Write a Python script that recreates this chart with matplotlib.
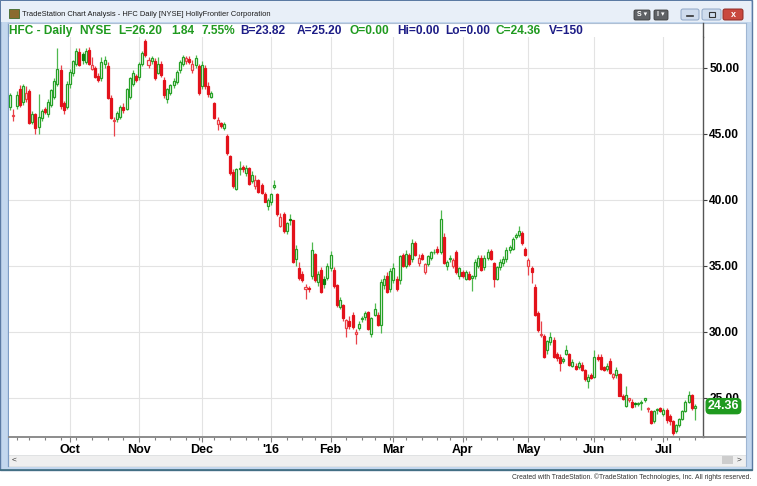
import matplotlib
matplotlib.use("Agg")
import matplotlib.pyplot as plt
import matplotlib.transforms as mtransforms
from matplotlib.patches import Rectangle, FancyBboxPatch
import numpy as np
import pandas as pd

plt.rcParams['font.family'] = ['Liberation Sans', 'DejaVu Sans']

# ---------------- data (daily OHLC, 2015-09-03 .. 2016-07-18) ----------------
opens = [
    # Sep
    47.0, 46.35, 47.1, 48.35, 47.4, 47.6, 48.2, 45.9, 46.5, 45.5, 46.2, 46.85, 46.5, 47.2, 47.8, 48.8, 49.8, 47.3, 47.0,
    # Oct
    48.8, 49.6, 50.3, 51.2, 51.0, 50.4, 51.35, 49.9, 50.0, 49.4, 49.2, 50.3, 50.1, 47.7, 45.95, 46.1, 46.3, 47.0, 46.9, 47.8, 48.8, 49.35,
    # Nov
    49.3, 50.3, 52.0, 50.2, 50.5, 50.5, 49.6, 50.3, 49.1, 47.6, 48.1, 48.7, 48.9, 49.8, 50.3, 50.5, 50.65, 49.8, 50.2, 50.1,
    # Dec
    48.6, 50.0, 48.6, 47.8, 47.3, 45.7, 45.8, 45.4, 44.8, 43.3, 42.1, 40.8, 42.3, 42.45, 42.0, 42.4, 41.4, 41.0, 41.5, 41.1, 40.45, 39.5,
    # Jan
    39.8, 40.95, 40.4, 38.0, 38.95, 37.6, 38.55, 38.45, 35.5, 34.8, 34.4, 33.25, 33.3, 34.2, 35.9, 33.8, 34.7, 34.0, 34.1,
    # Feb
    34.8, 34.7, 33.5, 31.9, 32.0, 30.3, 30.8, 31.3, 29.85, 30.3, 30.95, 31.1, 31.5, 29.8, 31.3, 31.3, 30.5, 33.5, 34.2, 33.2,
    # Mar
    33.9, 34.0, 33.9, 35.8, 35.0, 35.8, 35.5, 36.7, 35.2, 35.8, 34.5, 35.1, 35.6, 36.0, 36.3, 36.0, 37.2, 35.0, 35.5, 35.0, 36.0, 34.2,
    # Apr
    34.5, 34.0, 34.4, 34.1, 34.2, 35.0, 35.6, 34.9, 35.6, 36.1, 35.2, 34.0, 34.9, 35.2, 35.5, 36.2, 36.3, 37.2, 37.3, 37.5, 36.3,
    # May
    35.0, 34.8, 33.4, 31.4, 29.75, 29.7, 28.6, 29.2, 29.4, 28.3, 28.1, 27.8, 28.3, 28.3, 27.4, 27.4, 27.3, 27.5, 27.1, 26.3, 26.7,
    # Jun
    26.6, 28.1, 28.1, 27.3, 27.2, 27.8, 26.6, 26.7, 26.8, 25.1, 24.4, 24.85, 24.7, 24.6, 24.5, 24.6, 24.85, 24.15, 24.0, 23.2, 24.05, 24.2,
    # Jul
    23.8, 24.05, 23.6, 23.2, 22.5, 22.9, 23.4, 24.0, 24.7, 25.2, 24.2,
]
highs = [
    48.1, 46.9, 48.2, 48.7, 48.8, 48.6, 48.4, 46.7, 46.6, 48.0, 46.9, 47.0, 47.6, 48.4, 49.2, 51.5, 50.2, 47.5, 49.0,
    49.9, 50.6, 51.5, 51.5, 51.2, 51.5, 51.6, 50.8, 50.1, 49.6, 50.8, 50.9, 50.4, 47.9, 46.3, 46.7, 47.2, 47.3, 48.5, 49.3, 49.8, 49.5,
    50.4, 51.3, 52.15, 50.8, 50.9, 50.7, 50.8, 50.5, 49.3, 48.5, 48.8, 49.2, 49.8, 50.6, 51.0, 50.9, 50.9, 50.6, 51.0, 50.3,
    50.5, 50.2, 48.9, 48.2, 47.4, 46.3, 45.9, 45.9, 45.0, 43.4, 42.3, 42.4, 42.9, 42.6, 42.6, 42.5, 42.2, 41.9, 41.6, 41.3, 40.6, 40.1,
    40.5, 41.5, 40.5, 39.0, 39.1, 38.3, 38.9, 38.5, 36.6, 35.3, 34.6, 33.6, 33.5, 36.8, 36.0, 34.6, 34.9, 34.2, 35.2,
    36.1, 34.9, 33.6, 32.6, 32.1, 31.0, 31.2, 31.5, 30.2, 30.8, 31.2, 31.6, 31.6, 31.1, 32.2, 31.5, 34.0, 34.3, 34.5, 34.8,
    35.2, 34.2, 35.8, 36.0, 36.2, 36.0, 37.0, 36.9, 35.9, 36.0, 35.2, 35.8, 36.1, 36.3, 36.5, 39.2, 37.5, 35.4, 35.8, 35.6, 36.2, 34.9,
    34.7, 34.7, 34.6, 34.3, 35.5, 35.8, 35.8, 35.8, 36.3, 36.3, 35.3, 35.0, 35.5, 35.7, 36.4, 36.6, 37.2, 37.5, 38.0, 37.6, 36.4,
    35.6, 35.0, 33.6, 31.6, 30.8, 29.8, 29.4, 30.0, 29.6, 28.5, 28.3, 28.1, 29.0, 28.4, 27.9, 27.6, 27.8, 27.7, 27.2, 26.8, 26.9,
    28.6, 28.3, 28.3, 27.4, 27.6, 28.0, 26.9, 27.3, 26.9, 25.3, 25.85, 25.0, 24.9, 24.7, 24.7, 24.8, 25.0, 24.3, 24.1, 24.1, 24.2, 24.3,
    24.2, 24.2, 23.8, 23.3, 23.0, 23.5, 24.1, 24.8, 25.5, 25.3, 24.5,
]
lows = [
    46.8, 46.0, 46.9, 47.0, 47.2, 47.4, 45.7, 45.7, 45.0, 45.0, 46.0, 46.5, 46.3, 47.0, 47.6, 48.6, 46.9, 46.5, 46.9,
    48.5, 49.4, 50.1, 50.1, 50.3, 50.3, 50.2, 49.8, 49.2, 48.9, 49.0, 50.0, 47.6, 46.1, 44.8, 45.9, 46.1, 46.6, 46.8, 47.6, 48.6, 48.9,
    49.1, 50.1, 50.8, 50.0, 50.3, 49.1, 49.5, 49.3, 47.7, 47.3, 47.9, 48.5, 48.8, 49.6, 50.1, 50.3, 50.3, 49.6, 50.0, 47.9,
    48.4, 48.4, 47.8, 47.7, 46.1, 45.3, 45.4, 45.3, 43.4, 41.9, 40.9, 40.7, 41.9, 42.1, 41.8, 41.1, 41.3, 40.8, 40.5, 40.4, 39.8, 39.2,
    39.6, 40.8, 38.8, 37.9, 37.5, 37.4, 38.1, 35.2, 35.0, 33.9, 33.8, 32.5, 33.0, 34.0, 33.8, 33.5, 32.9, 33.3, 33.9,
    34.6, 33.3, 31.9, 31.7, 30.8, 29.6, 30.2, 30.2, 29.1, 30.1, 30.7, 30.9, 30.1, 29.6, 31.2, 30.4, 29.9, 33.2, 32.9, 33.0,
    33.7, 33.1, 33.6, 34.9, 34.8, 35.0, 35.3, 35.7, 35.0, 35.4, 34.4, 35.0, 35.4, 35.9, 35.9, 35.9, 35.1, 34.7, 35.3, 34.8, 34.4, 34.0,
    34.1, 33.9, 33.9, 33.1, 34.0, 34.8, 34.6, 34.7, 35.4, 35.4, 33.4, 33.9, 34.7, 35.0, 35.3, 36.0, 36.2, 37.0, 37.2, 36.6, 35.7,
    34.3, 33.7, 31.2, 30.0, 29.6, 28.0, 28.3, 29.0, 28.0, 27.8, 27.0, 27.6, 28.2, 27.4, 27.3, 27.1, 27.2, 27.0, 26.3, 25.7, 26.4,
    26.5, 27.8, 27.1, 27.0, 27.0, 26.8, 26.4, 26.5, 25.1, 24.8, 24.3, 24.7, 24.2, 24.3, 24.4, 24.1, 24.7, 23.9, 23.0, 23.1, 23.8, 23.9,
    23.6, 23.1, 22.9, 22.2, 22.3, 22.8, 23.3, 23.9, 24.6, 24.1, 23.3,
]
closes = [
    47.9, 46.45, 47.9, 47.2, 48.6, 48.1, 45.8, 46.5, 45.4, 46.3, 46.7, 46.65, 47.4, 48.3, 49.0, 49.9, 47.1, 46.8, 48.8,
    49.7, 50.5, 51.3, 50.2, 50.6, 51.3, 50.3, 50.2, 49.3, 49.1, 50.45, 50.6, 47.7, 46.2, 46.05, 46.55, 47.0, 46.8, 48.4, 49.2, 49.6, 49.05,
    50.3, 51.1, 50.95, 50.6, 50.75, 49.2, 50.3, 49.45, 47.9, 48.4, 48.7, 49.0, 49.7, 50.45, 50.8, 50.7, 50.45, 50.3, 50.7, 48.05,
    50.2, 48.6, 48.0, 48.05, 46.2, 46.0, 45.55, 45.7, 43.5, 42.0, 41.0, 42.3, 42.4, 42.3, 42.4, 41.2, 41.9, 41.5, 40.6, 40.5, 39.85, 40.0,
    40.4, 41.15, 38.9, 38.7, 37.6, 38.2, 38.45, 35.3, 36.3, 34.05, 33.9, 33.35, 33.2, 36.2, 33.9, 34.4, 33.0, 33.6, 35.0,
    35.8, 33.45, 32.0, 32.4, 31.0, 30.9, 30.4, 30.35, 29.95, 30.6, 31.05, 31.4, 30.2, 31.0, 31.7, 30.5, 33.8, 34.0, 33.0, 34.6,
    34.8, 33.2, 35.7, 35.0, 35.9, 35.1, 36.7, 35.8, 35.6, 35.5, 35.1, 35.7, 36.0, 36.05, 36.0, 38.5, 35.2, 35.3, 35.55, 35.4, 34.5, 34.8,
    34.2, 34.5, 33.97, 34.2, 35.3, 35.6, 34.7, 35.6, 36.0, 35.5, 34.0, 34.9, 35.3, 35.5, 36.2, 36.4, 37.0, 37.35, 37.6, 36.7, 35.8,
    35.4, 34.5, 31.3, 30.1, 29.85, 28.1, 29.3, 29.6, 28.1, 28.0, 27.6, 27.9, 28.6, 27.5, 27.7, 27.2, 27.6, 27.1, 26.4, 26.6, 26.5,
    28.1, 27.9, 27.2, 27.1, 27.4, 26.85, 26.8, 27.1, 25.15, 24.9, 25.2, 24.95, 24.3, 24.5, 24.55, 24.7, 24.95, 24.2, 23.1, 24.0, 24.1, 24.0,
    24.05, 23.3, 23.2, 22.35, 22.9, 23.4, 24.0, 24.7, 25.2, 24.2, 24.36,
]

start_date = "2015-09-03"
end_date = "2016-07-18"
market_holidays = ["2015-09-07", "2015-11-26", "2015-12-25", "2016-01-01",
                   "2016-01-18", "2016-02-15", "2016-03-25", "2016-05-30", "2016-07-04"]
month_names = {1: "'16", 2: "Feb", 3: "Mar", 4: "Apr", 5: "May", 6: "Jun",
               7: "Jul", 8: "Aug", 9: "Sep", 10: "Oct", 11: "Nov", 12: "Dec"}
price_ticks = [25, 30, 35, 40, 45, 50]
last_close = 24.36

title_text = "TradeStation Chart Analysis - HFC Daily [NYSE] HollyFrontier Corporation"
footer_text = "Created with TradeStation. \u00a9TradeStation Technologies, Inc. All rights reserved."
HG = "#1f9a1f"   # header green
HB = "#1c1c86"   # header navy
header_parts = [("HFC - Daily", HG), ("NYSE", HG), ("L=26.20", HG), ("1.84", HG),
                ("7.55%", HG), ("B=23.82", HB), ("A=25.20", HB), ("O=0.00", HG),
                ("Hi=0.00", HB), ("Lo=0.00", HB), ("C=24.36", HG), ("V=150", HB)]
header_x = [9, 79, 118, 171, 201, 240, 297, 349, 397, 445, 495, 549]

# ---------------- derived ----------------
dates = pd.bdate_range(start_date, end_date, freq="C", holidays=market_holidays)
n = len(closes)
dates = dates[:n]
xs = np.arange(n)
months = np.array([d.month for d in dates])
weeks = np.array([d.isocalendar()[1] for d in dates])
month_pos = [j for j in range(1, n) if months[j] != months[j - 1]]
month_lab = [month_names[months[j]] for j in month_pos]
week_pos = [j for j in range(1, n) if weeks[j] != weeks[j - 1]]

o = np.array(opens); h = np.array(highs); l = np.array(lows); c = np.array(closes)
prev = np.concatenate([[o[0]], c[:-1]])
up = c >= prev
hollow = c > o

GREEN = "#27a127"
GREEN_W = "#4fb84f"
GREEN_F = "#0b800b"
RED = "#e3121b"
RED_W = "#e8424a"
RED_H = "#ea4047"

face, edge, wick = [], [], []
for j in range(n):
    if up[j]:
        wick.append(GREEN_W)
        if hollow[j]:
            face.append("white"); edge.append(GREEN)
        else:
            face.append(GREEN_F); edge.append(GREEN_F)
    else:
        wick.append(RED_W)
        if hollow[j]:
            face.append("white"); edge.append(RED_H)
        else:
            face.append(RED); edge.append(RED)
bottoms = np.minimum(o, c)
heights = np.maximum(np.abs(c - o), 0.07)

# ---------------- figure ----------------
W, H = 757, 486
fig = plt.figure(figsize=(W / 100, H / 100), dpi=100)
fig.patch.set_facecolor("white")

bg = fig.add_axes([0, 0, 1, 1], zorder=0)
bg.set_xlim(0, W); bg.set_ylim(H, 0); bg.axis("off")

# window frame
bg.add_patch(Rectangle((0, 0), 752, 470, facecolor="#c3d7ee", edgecolor="#5b7aa3", lw=1))
bg.add_patch(Rectangle((1, 1), 750, 21.5, facecolor="#e8eff8", edgecolor="none"))
bg.add_patch(Rectangle((8, 23), 738, 432, facecolor="white", edgecolor="none"))
bg.add_patch(Rectangle((8, 455), 738, 10.5, facecolor="#efefef", edgecolor="#e2e2e2", lw=0.6))
bg.plot([8, 8], [23, 466], color="#7d9cc4", lw=0.9)
bg.plot([8, 746], [22.8, 22.8], color="#aebfd4", lw=0.8)
bg.plot([746, 746], [23, 466], color="#9fb6d3", lw=0.8)
bg.plot([0, 752], [469.5, 469.5], color="#3f6d7e", lw=1.2)
# scrollbar bits
bg.add_patch(Rectangle((722, 456), 11, 8, facecolor="#cdcdcd", edgecolor="none"))
bg.text(14, 460.5, "<", fontsize=6, color="#333333", ha="center", va="center")
bg.text(739, 460.5, ">", fontsize=6, color="#333333", ha="center", va="center")
# title bar
bg.add_patch(Rectangle((9, 9), 10, 9, facecolor="#8a6a2e", edgecolor="#3e6a2a", lw=0.6))
bg.text(22, 14.5, title_text, fontsize=5.4, color="#1a1a1a", va="center", ha="left")
for (x0, x1), lab in [((634, 650), "S \u25be"), ((654, 668), "I \u25be")]:
    bg.add_patch(FancyBboxPatch((x0, 10), x1 - x0, 10, boxstyle="round,pad=0,rounding_size=1.5",
                                facecolor="#5f6266", edgecolor="#3c3c3c", lw=0.6))
    bg.text((x0 + x1) / 2, 15, lab, fontsize=5, color="white", fontweight="bold", ha="center", va="center")
for (x0, x1), fc, ec in [((681, 699), "#cfdced", "#8ea6c6"), ((702, 721), "#cfdced", "#8ea6c6"),
                         ((723, 743), "#c9483e", "#8e2b24")]:
    bg.add_patch(FancyBboxPatch((x0, 9), x1 - x0, 11, boxstyle="round,pad=0,rounding_size=2",
                                facecolor=fc, edgecolor=ec, lw=0.7))
bg.plot([687, 693], [16, 16], color="#333333", lw=1.2)
bg.add_patch(Rectangle((708.5, 12.5), 6, 4.5, facecolor="none", edgecolor="#333333", lw=0.8))
bg.text(733, 14.5, "x", fontsize=6.5, color="white", fontweight="bold", ha="center", va="center")

# header
for (txt, col), hx in zip(header_parts, header_x):
    bg.text(hx, 31, txt, fontsize=8.6, fontweight="bold", color=col, ha="left", va="center")

# footer
bg.text(751, 477, footer_text, fontsize=4.9, color="#333333", ha="right", va="center")

# axis extensions outside plot
bg.plot([703.3, 703.3], [23, 37], color="#555555", lw=1)
bg.plot([703, 745], [437, 437], color="#8c8c8c", lw=1.4)

# ---------------- main price axes ----------------
x_left, x_right, y_top, y_bot = 9, 703, 37, 437
ax = fig.add_axes([x_left / W, (H - y_bot) / H, (x_right - x_left) / W, (y_bot - y_top) / H], zorder=2)
ax.set_facecolor("white")
px_per_bar = 3.14
x_oct = 70.0
j_oct = month_pos[0]
ax.set_xlim(j_oct + (x_left - x_oct) / px_per_bar, j_oct + (x_right - x_oct) / px_per_bar)
y50 = 67.7; px_per_usd = 13.2
ax.set_ylim(50 - (y_bot - y50) / px_per_usd, 50 + (y50 - y_top) / px_per_usd)

ax.vlines(xs, l, h, colors=wick, lw=0.9, zorder=2)
ax.bar(xs, heights, bottom=bottoms, width=0.64, color=face, edgecolor=edge, linewidth=0.9, zorder=3)

ax.set_xticks(month_pos)
ax.set_xticklabels(month_lab, fontweight="bold", fontsize=9, color="black")
ax.set_xticks(week_pos, minor=True)
ax.set_yticks(price_ticks)
ax.set_yticklabels([f"{p:.2f}" for p in price_ticks], fontweight="bold", fontsize=8.6, color="black")
ax.yaxis.tick_right()
ax.grid(True, which="major", color="#e3e3e3", lw=0.8, zorder=0)
ax.set_axisbelow(True)
ax.tick_params(axis="x", which="major", length=3.6, width=0.8, color="#808080", pad=1.2)
ax.tick_params(axis="x", which="minor", length=2.0, width=0.8, color="#808080")
ax.tick_params(axis="y", which="major", length=3, width=0.8, color="#404040", pad=1.5,
               right=True, left=False, labelright=True, labelleft=False)
for s in ["top", "left"]:
    ax.spines[s].set_visible(False)
ax.spines["right"].set_color("#555555"); ax.spines["right"].set_linewidth(1)
ax.spines["bottom"].set_color("#8c8c8c"); ax.spines["bottom"].set_linewidth(1.4)

# last price label (sits over part of the 25.00 tick label, as in the original)
trans = mtransforms.blended_transform_factory(ax.transAxes, ax.transData)
ax.text(1.0295, last_close, f"{last_close:.2f}", transform=trans, ha="center", va="center",
        fontsize=9, fontweight="bold", color="white", zorder=10, clip_on=False,
        bbox=dict(boxstyle="round,pad=0.12,rounding_size=0.3", facecolor="#1f9a1f", edgecolor="#1f9a1f"))

fig.savefig("out.png", dpi=100)
